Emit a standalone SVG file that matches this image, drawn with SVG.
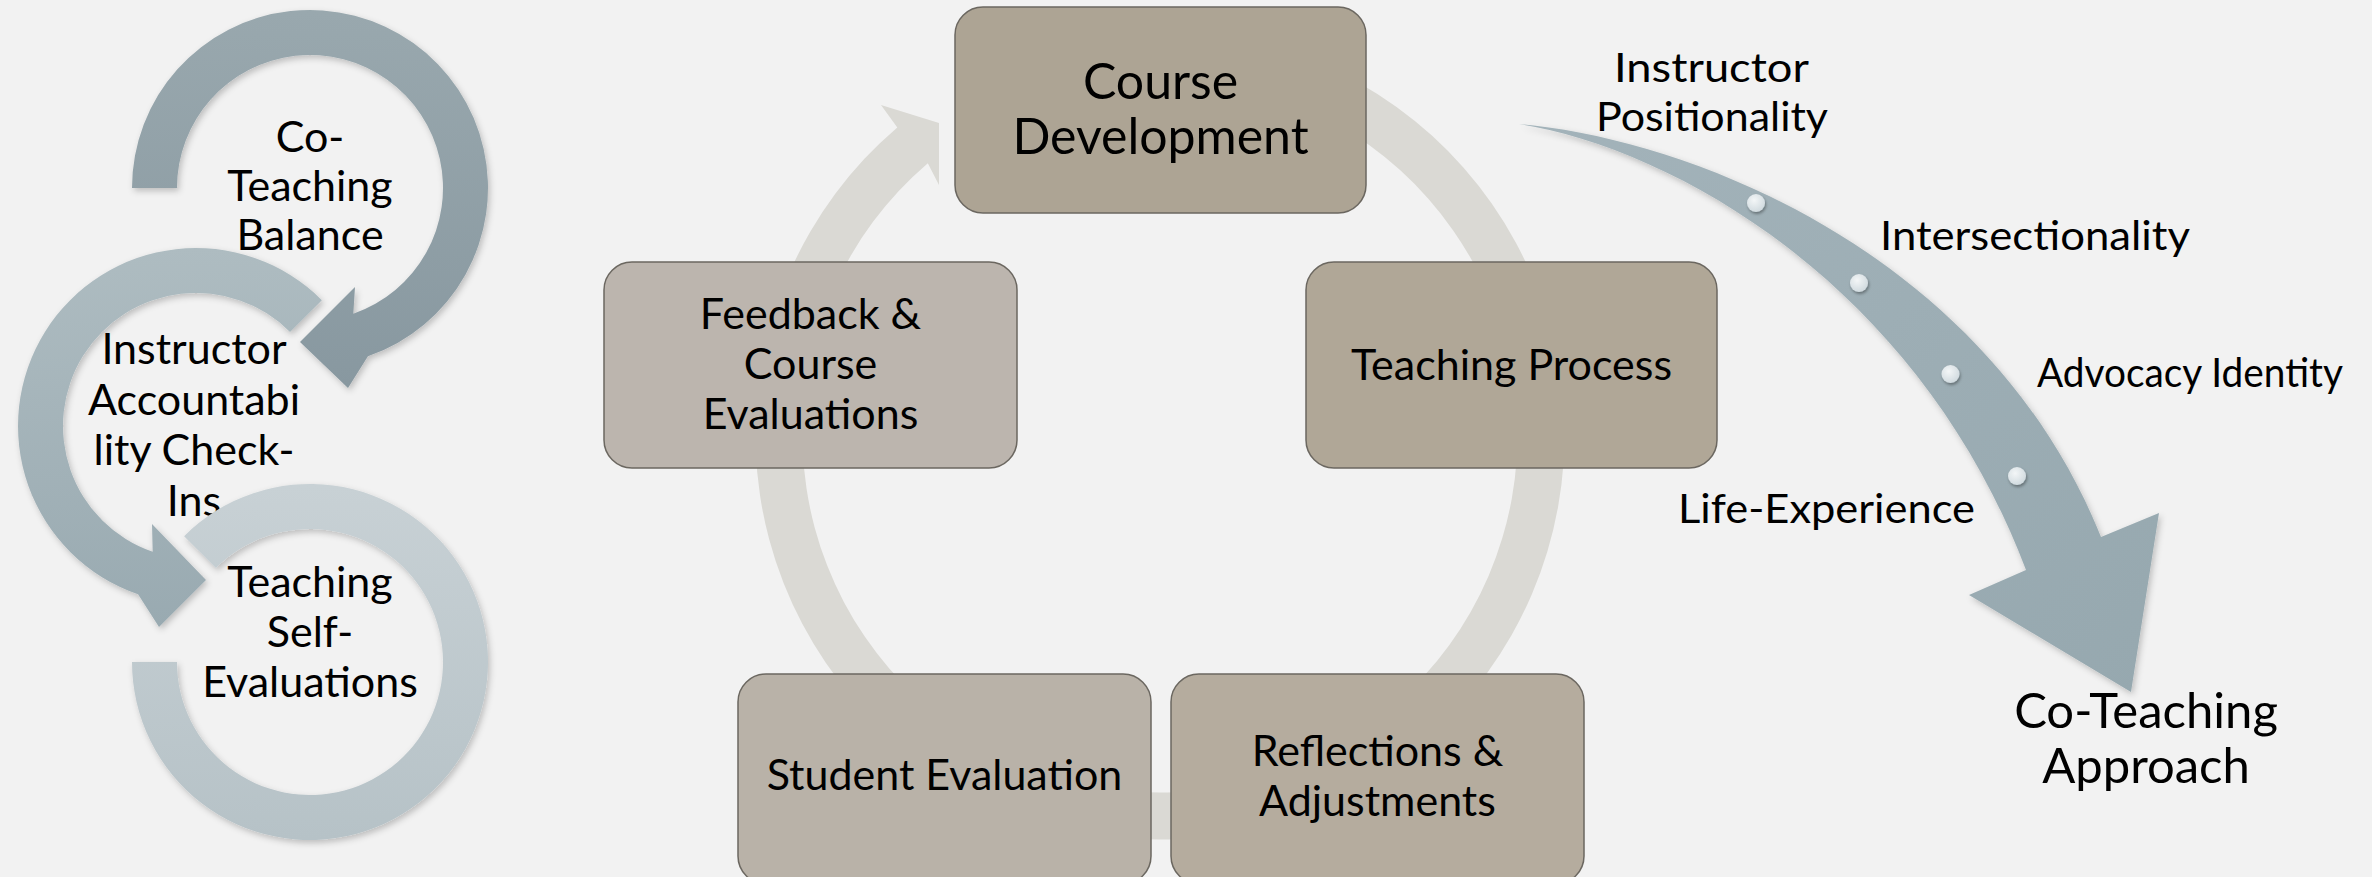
<svg xmlns="http://www.w3.org/2000/svg" width="2372" height="877" viewBox="0 0 2372 877">
<defs>
<style>
.t{font-family:Lato,"Liberation Sans",sans-serif;fill:#000;text-anchor:middle}
.s42{font-size:43px}
.s50{font-size:50px}
.lbl{font-family:Lato,"Liberation Sans",sans-serif;fill:#000;font-size:41px}
.box{stroke:#6b6760;stroke-width:1.5}
.dot{fill:url(#gDot);filter:url(#shD)}
</style>
<linearGradient id="g1" x1="0" y1="0" x2="0" y2="1"><stop offset="0" stop-color="#99a8ae"/><stop offset="1" stop-color="#8898a0"/></linearGradient>
<linearGradient id="g2" x1="0" y1="0" x2="0" y2="1"><stop offset="0" stop-color="#aebcc1"/><stop offset="1" stop-color="#99aab1"/></linearGradient>
<linearGradient id="g3" x1="0" y1="0" x2="0" y2="1"><stop offset="0" stop-color="#c8d1d5"/><stop offset="1" stop-color="#b6c2c7"/></linearGradient>
<linearGradient id="gR" x1="0" y1="0" x2="1" y2="1"><stop offset="0" stop-color="#a3b3ba"/><stop offset="1" stop-color="#96a8af"/></linearGradient>
<radialGradient id="gDot" cx="0.4" cy="0.35" r="0.7"><stop offset="0" stop-color="#f3f6f7"/><stop offset="1" stop-color="#cfd9de"/></radialGradient>
<filter id="sh" x="-10%" y="-10%" width="130%" height="130%"><feDropShadow dx="2" dy="3" stdDeviation="3" flood-color="#000" flood-opacity="0.22"/></filter>
<filter id="shD" x="-50%" y="-50%" width="200%" height="200%"><feDropShadow dx="1" dy="2" stdDeviation="1.5" flood-color="#000" flood-opacity="0.35"/></filter>
</defs>
<rect width="2372" height="877" fill="#f2f2f2"/>

<g id="node-co-teaching-balance">
<path filter="url(#sh)" fill="url(#g1)" d="M 132 188 A 178 178 0 1 1 367.95 356.3 L 348 388 L 300 342 L 355 287 L 353.3 313.75 A 133 133 0 1 0 177 188 Z"/>
<text class="t s42" x="310" y="152">Co-<tspan x="310" dy="49">Teaching</tspan><tspan x="310" dy="49">Balance</tspan></text>
</g>
<g id="node-instructor-accountability">
<path filter="url(#sh)" fill="url(#g2)" d="M 321.87 300.13 A 178 178 0 1 0 138.05 594.3 L 159 627 L 206 580 L 152 524 L 152.7 551.75 A 133 133 0 1 1 290.05 331.95 Z"/>
<text class="t s42" x="194" y="364">Instructor<tspan x="194" dy="50.5">Accountabi</tspan><tspan x="194" dy="50.5">lity Check-</tspan><tspan x="194" dy="50.5">Ins</tspan></text>
</g>
<g id="node-teaching-self-evaluations">
<path filter="url(#sh)" fill="url(#g3)" d="M 132 662 A 178 178 0 1 0 184.13 536.13 L 215.95 567.95 A 133 133 0 1 1 177 662 Z"/>
<text class="t s42" x="310" y="597">Teaching<tspan x="310" dy="50">Self-</tspan><tspan x="310" dy="50">Evaluations</tspan></text>
</g>

<g id="connectors">
<path fill="#dad9d4" d="M 1230.24 36.65 A 404.5 404.5 0 1 1 897.3 127.41 L 881 105 L 939 123 L 939 185 L 927.82 163.15 A 357.5 357.5 0 1 0 1222.08 82.93 Z"/>
</g>

<g id="node-course-development">
<rect class="box" x="955" y="7" width="411" height="206" rx="28" fill="#ada494"/>
<text class="t s50" x="1160.5" y="99">Course<tspan x="1160.5" dy="55">Development</tspan></text>
</g>
<g id="node-teaching-process">
<rect class="box" x="1306" y="262" width="411" height="206" rx="28" fill="#b0a797"/>
<text class="t s42" x="1511.5" y="380">Teaching Process</text>
</g>
<g id="node-reflections">
<rect class="box" x="1171" y="674" width="413" height="210" rx="28" fill="#b5ac9e"/>
<text class="t s42" x="1377.5" y="766">Reflections &amp;<tspan x="1377.5" dy="50">Adjustments</tspan></text>
</g>
<g id="node-student-evaluation">
<rect class="box" x="738" y="674" width="413" height="210" rx="28" fill="#b9b2a8"/>
<text class="t s42" x="944.5" y="790">Student Evaluation</text>
</g>
<g id="node-feedback">
<rect class="box" x="604" y="262" width="413" height="206" rx="28" fill="#bcb5ae"/>
<text class="t s42" x="810.5" y="329">Feedback &amp;<tspan x="810.5" dy="50">Course</tspan><tspan x="810.5" dy="50">Evaluations</tspan></text>
</g>

<g id="node-co-teaching-arrow">
<path filter="url(#sh)" fill="url(#gR)" d="M 1519 124 C 1700 140 1990 260 2101 537 L 2159 513 L 2131 692 L 1969 595 L 2026 570 C 1920 290 1680 150 1519 124 Z"/>
<circle class="dot" cx="1756" cy="203" r="9"/>
<circle class="dot" cx="1859" cy="283" r="9"/>
<circle class="dot" cx="1950.5" cy="374" r="9"/>
<circle class="dot" cx="2017" cy="476" r="9"/>
</g>
<g id="label-instructor-positionality">
<text class="lbl" x="1614" y="82" textLength="195" lengthAdjust="spacingAndGlyphs">Instructor</text>
<text class="lbl" x="1596" y="131" textLength="232" lengthAdjust="spacingAndGlyphs">Positionality</text>
</g>
<g id="label-intersectionality"><text class="lbl" x="1880" y="250" textLength="310" lengthAdjust="spacingAndGlyphs">Intersectionality</text></g>
<g id="label-advocacy-identity"><text class="lbl" x="2037" y="387" textLength="306" lengthAdjust="spacingAndGlyphs">Advocacy Identity</text></g>
<g id="label-life-experience"><text class="lbl" x="1678" y="523" textLength="297" lengthAdjust="spacingAndGlyphs">Life-Experience</text></g>
<g id="node-co-teaching-approach">
<text class="t" style="font-size:49px" x="2146" y="728">Co-Teaching<tspan x="2146" dy="55">Approach</tspan></text>
</g>
</svg>
